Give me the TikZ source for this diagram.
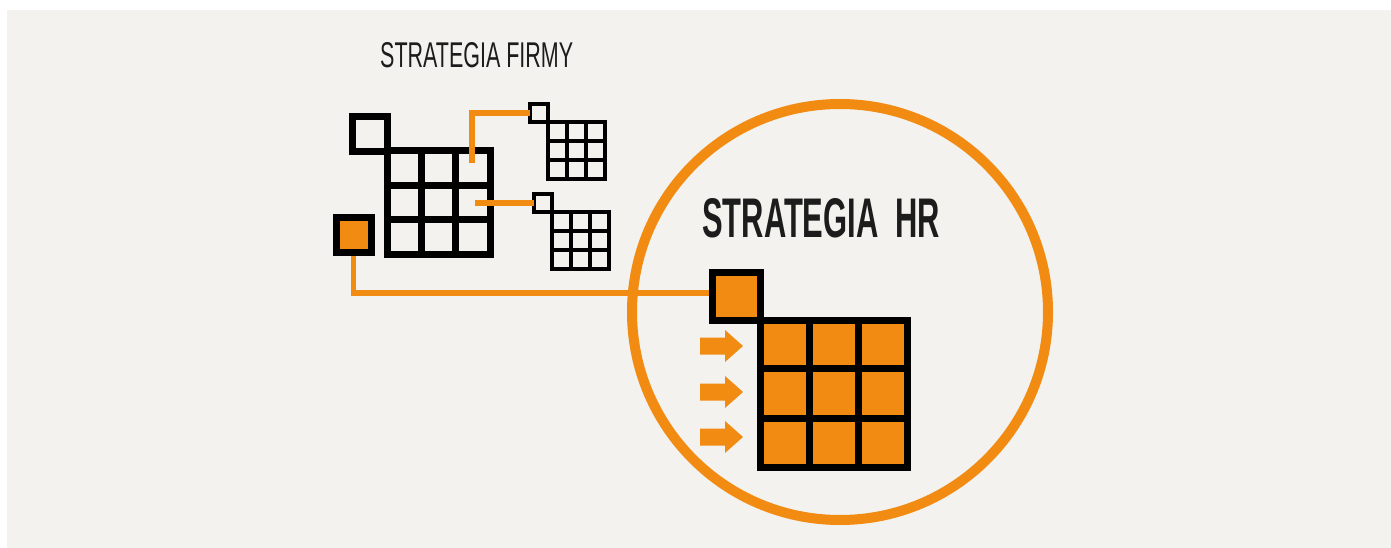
\documentclass[tikz,border=0pt]{standalone}
\usepackage{fontspec}
\usepackage{graphicx}
\setsansfont{Liberation Sans}
\usetikzlibrary{calc,backgrounds}
\definecolor{hrorange}{RGB}{242,139,18}
\definecolor{bggray}{RGB}{243,242,238}
\definecolor{txtgray}{RGB}{28,28,28}
\newcommand{\gridlines}[2]{%
  \foreach \f in {0.3333,0.6667}{%
    \draw[line width=#2] ($(#1.north west)!\f!(#1.north east)$) -- ($(#1.south west)!\f!(#1.south east)$);
    \draw[line width=#2] ($(#1.north west)!\f!(#1.south west)$) -- ($(#1.north east)!\f!(#1.south east)$);
  }}
\tikzset{
  box/.style={draw=black, rectangle, inner sep=0pt, outer sep=0pt},
  boxthick/.style={box, line width=7pt},
  boxthin/.style={box, line width=4pt},
  link/.style={draw=hrorange, line width=5.5pt},
  harrow/.style={fill=hrorange, draw=none},
  title/.style={inner sep=0pt, text=txtgray, font=\sffamily},
}
\begin{document}
\begin{tikzpicture}[x=1pt,y=-1pt]
\useasboundingbox (0,0) rectangle (1391,548);

% titles
\node[title, anchor=base west] (tfirmy) at (380,68) {\resizebox{193pt}{25pt}{STRATEGIA FIRMY}};
\node[title, font=\sffamily\bfseries, anchor=base west] (thr) at (702,237) {\resizebox{238pt}{39pt}{STRATEGIA\ \ HR}};

% company strategy grid
\node[boxthick, fill=hrorange, minimum size=35pt] (orsq) at (353.5,234.5) {};
\node[boxthick, minimum size=35pt] (fsq) at (369.5,134) {};
\node[boxthick, minimum size=103pt] (fgrid) at (438.5,202.5) {};
\gridlines{fgrid}{7pt}

% small grids
\node[boxthin, minimum size=18pt] (s1sq) at (539,113) {};
\node[boxthin, minimum size=57pt] (s1grid) at (576.5,150.5) {};
\gridlines{s1grid}{4pt}
\node[boxthin, minimum size=18pt] (s2sq) at (543,203) {};
\node[boxthin, minimum size=57pt] (s2grid) at (580.5,240.5) {};
\gridlines{s2grid}{4pt}

\coordinate (c1) at (472,163);
\coordinate (c2) at (475,203);
\draw[link] (c1) |- (s1sq.west);
\draw[link] (c2) -- (s2sq.west);

% HR grid
\node[boxthick, fill=hrorange, minimum size=48pt] (hrsq) at (736,296) {};
\node[boxthick, fill=hrorange, minimum size=147pt] (hrgrid) at (833.5,393.5) {};
\gridlines{hrgrid}{7pt}

% arrows
\foreach \yy in {346,392,437}{
  \fill[harrow] (700,\yy-8.5) -- (725,\yy-8.5) -- (725,\yy-16) -- (743,\yy) -- (725,\yy+16) -- (725,\yy+8.5) -- (700,\yy+8.5) -- cycle;
}

\begin{scope}[on background layer]
\fill[white] (0,0) rectangle (1391,548);
\fill[bggray] (7,10) rectangle (1391,548);
\node[circle, draw=hrorange, line width=10pt, minimum size=416pt, inner sep=0pt] (hrcircle) at (840,312) {};
\draw[link] (orsq.south) |- ([yshift=3pt]hrsq.west);
\end{scope}
\end{tikzpicture}
\end{document}
